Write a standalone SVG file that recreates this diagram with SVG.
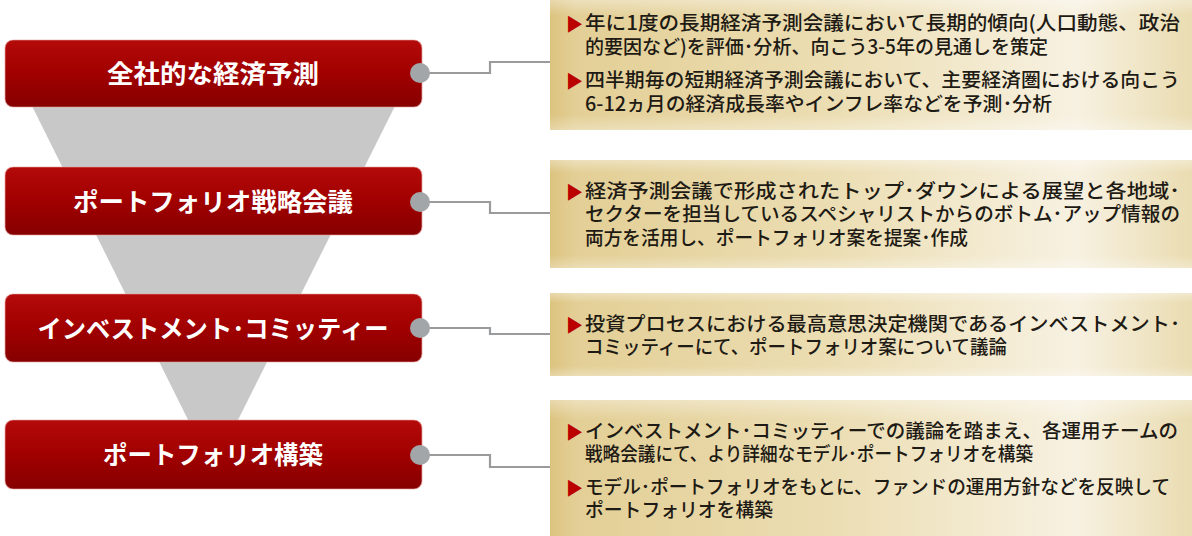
<svg xmlns="http://www.w3.org/2000/svg" width="1192" height="536" viewBox="0 0 1192 536">
<defs>
<linearGradient id="redg" x1="0" y1="0" x2="0" y2="1">
<stop offset="0" stop-color="#b40a0a"/>
<stop offset="0.5" stop-color="#a10000"/>
<stop offset="1" stop-color="#860000"/>
</linearGradient>
<linearGradient id="goldg" x1="0" y1="0" x2="1" y2="0">
<stop offset="0" stop-color="#dcc37f"/>
<stop offset="0.04" stop-color="#e3cf96"/>
<stop offset="0.45" stop-color="#ecdeb4"/>
<stop offset="0.82" stop-color="#f7f1e1"/>
<stop offset="1" stop-color="#eadcb1"/>
</linearGradient>
<linearGradient id="goldv" x1="0" y1="0" x2="0" y2="1">
<stop offset="0" stop-color="#fff" stop-opacity="0.35"/>
<stop offset="0.12" stop-color="#fff" stop-opacity="0"/>
<stop offset="0.88" stop-color="#fff" stop-opacity="0"/>
<stop offset="1" stop-color="#fff" stop-opacity="0.3"/>
</linearGradient>
</defs>
<style>
.stage{fill:url(#redg);stroke:#e7a3a3;stroke-width:1.2;stroke-opacity:0.6}
.dot{fill:#a3a6a9}
.gold{fill:url(#goldg)}
.goldo{fill:url(#goldv)}
.lbl{font-family:"Noto Sans CJK JP","Noto Sans",sans-serif;font-weight:bold;font-size:25px;fill:#ffffff;text-anchor:middle}
.t{font-family:"Noto Sans CJK JP","Noto Sans",sans-serif;font-weight:500;font-size:19.5px;fill:#1e1a14}
.b{font-family:"DejaVu Sans",sans-serif;font-size:22px;fill:#bb0000}
.conn{fill:none;stroke:#999b9d;stroke-width:2.2}
</style>
<rect width="1192" height="536" fill="#ffffff"/>
<polygon id="funnel" points="32,106 395,106 213,470" fill="#c8c8c8"/>

<g id="connectors">
<path class="conn" d="M428,73 H490 V62 H550"/>
<path class="conn" d="M428,202 H490 V213 H550"/>
<path class="conn" d="M428,328 H490 V334 H550"/>
<path class="conn" d="M428,455 H490 V467 H550"/>
</g>

<g id="stage1">
<rect class="stage" x="5" y="40" width="417" height="67" rx="8"/>
<circle class="dot" cx="420" cy="73" r="10"/>
<text class="lbl" x="213" y="83" textLength="212" lengthAdjust="spacingAndGlyphs">全社的な経済予測</text>
</g>
<g id="stage2">
<rect class="stage" x="5" y="167" width="417" height="68" rx="8"/>
<circle class="dot" cx="420" cy="202" r="10"/>
<text class="lbl" x="213" y="210.5" textLength="280" lengthAdjust="spacingAndGlyphs">ポートフォリオ戦略会議</text>
</g>
<g id="stage3">
<rect class="stage" x="5" y="294" width="417" height="68" rx="8"/>
<circle class="dot" cx="420" cy="328" r="10"/>
<text class="lbl" x="213" y="337.5" textLength="351" lengthAdjust="spacingAndGlyphs">インベストメント･コミッティー</text>
</g>
<g id="stage4">
<rect class="stage" x="5" y="420" width="417" height="69" rx="8"/>
<circle class="dot" cx="420" cy="455" r="10"/>
<text class="lbl" x="213" y="464" textLength="220" lengthAdjust="spacingAndGlyphs">ポートフォリオ構築</text>
</g>

<g id="desc1">
<rect class="gold" x="550" y="0" width="642" height="130"/>
<rect class="goldo" x="550" y="0" width="642" height="130"/>
<text class="b" x="568" y="30" textLength="14" lengthAdjust="spacingAndGlyphs">▶</text>
<text class="t" x="585" y="29.5" textLength="595" lengthAdjust="spacingAndGlyphs">年に1度の長期経済予測会議において長期的傾向(人口動態、政治</text>
<text class="t" x="585" y="53.5" textLength="463" lengthAdjust="spacingAndGlyphs">的要因など)を評価･分析、向こう3-5年の見通しを策定</text>
<text class="b" x="568" y="87" textLength="14" lengthAdjust="spacingAndGlyphs">▶</text>
<text class="t" x="585" y="86.5" textLength="595" lengthAdjust="spacingAndGlyphs">四半期毎の短期経済予測会議において、主要経済圏における向こう</text>
<text class="t" x="585" y="110.5" textLength="467" lengthAdjust="spacingAndGlyphs">6-12ヵ月の経済成長率やインフレ率などを予測･分析</text>
</g>
<g id="desc2">
<rect class="gold" x="550" y="160" width="642" height="108"/>
<rect class="goldo" x="550" y="160" width="642" height="108"/>
<text class="b" x="568" y="198" textLength="14" lengthAdjust="spacingAndGlyphs">▶</text>
<text class="t" x="585" y="197.5" textLength="595" lengthAdjust="spacingAndGlyphs">経済予測会議で形成されたトップ･ダウンによる展望と各地域･</text>
<text class="t" x="585" y="220.5" textLength="595" lengthAdjust="spacingAndGlyphs">セクターを担当しているスペシャリストからのボトム･アップ情報の</text>
<text class="t" x="585" y="244.5" textLength="383" lengthAdjust="spacingAndGlyphs">両方を活用し、ポートフォリオ案を提案･作成</text>
</g>
<g id="desc3">
<rect class="gold" x="550" y="293" width="642" height="83"/>
<rect class="goldo" x="550" y="293" width="642" height="83"/>
<text class="b" x="568" y="331" textLength="14" lengthAdjust="spacingAndGlyphs">▶</text>
<text class="t" x="585" y="330.5" textLength="595" lengthAdjust="spacingAndGlyphs">投資プロセスにおける最高意思決定機関であるインベストメント･</text>
<text class="t" x="585" y="353.5" textLength="422" lengthAdjust="spacingAndGlyphs">コミッティーにて、ポートフォリオ案について議論</text>
</g>
<g id="desc4">
<rect class="gold" x="550" y="400" width="642" height="136"/>
<rect class="goldo" x="550" y="400" width="642" height="160"/>
<text class="b" x="568" y="438" textLength="14" lengthAdjust="spacingAndGlyphs">▶</text>
<text class="t" x="585" y="437.5" textLength="593" lengthAdjust="spacingAndGlyphs">インベストメント･コミッティーでの議論を踏まえ、各運用チームの</text>
<text class="t" x="585" y="460.5" textLength="448" lengthAdjust="spacingAndGlyphs">戦略会議にて、より詳細なモデル･ポートフォリオを構築</text>
<text class="b" x="568" y="494" textLength="14" lengthAdjust="spacingAndGlyphs">▶</text>
<text class="t" x="585" y="493.5" style="font-size:18.8px" textLength="585" lengthAdjust="spacingAndGlyphs">モデル･ポートフォリオをもとに、ファンドの運用方針などを反映して</text>
<text class="t" x="585" y="516.5" textLength="188" lengthAdjust="spacingAndGlyphs">ポートフォリオを構築</text>
</g>
</svg>
